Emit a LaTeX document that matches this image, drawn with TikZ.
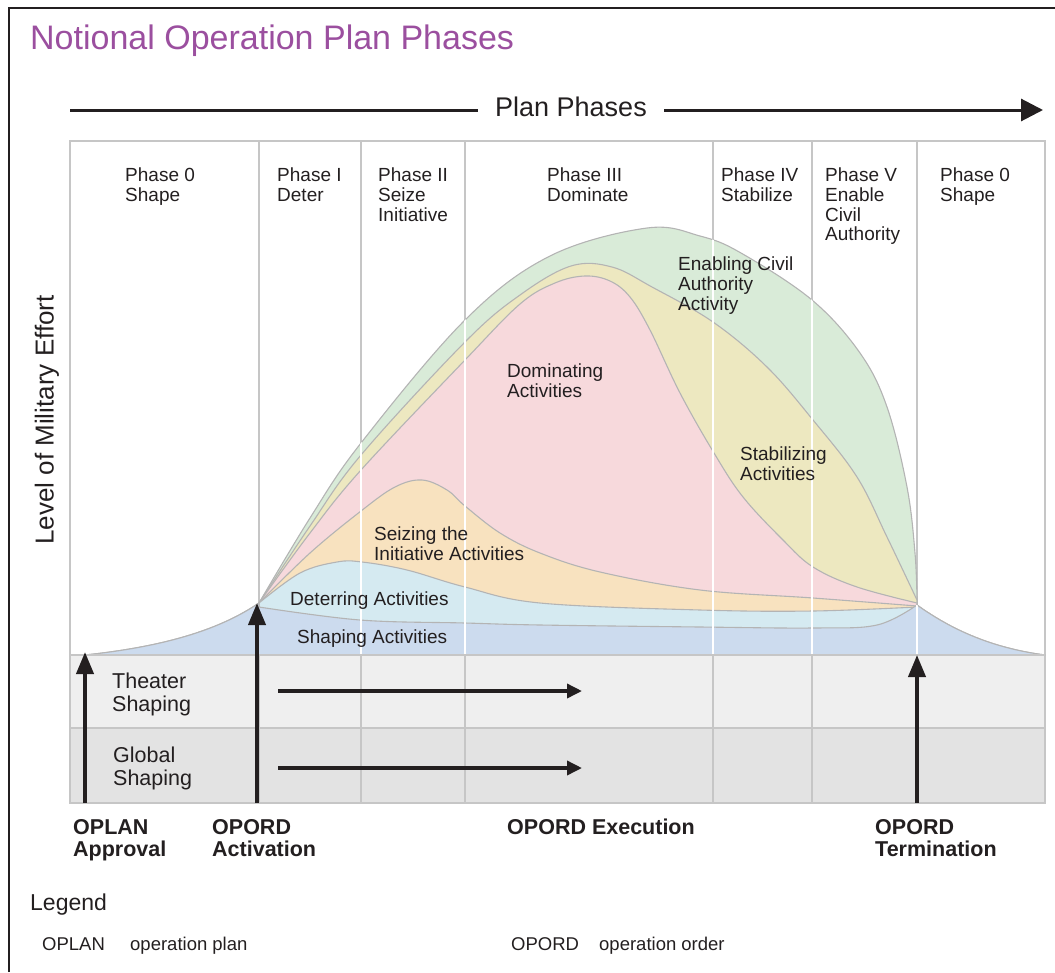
\documentclass[tikz,border=0pt]{standalone}
\usepackage{fontspec}
\setmainfont{Liberation Sans}
\usetikzlibrary{arrows.meta}

\definecolor{ink}{HTML}{231F20}
\definecolor{headpurple}{HTML}{9B4F9F}
\definecolor{gridgray}{HTML}{C6C6C6}
\definecolor{edgegray}{HTML}{B4B4B4}
\definecolor{bandlight}{HTML}{EFEFEF}
\definecolor{banddark}{HTML}{E3E3E3}
\definecolor{civgreen}{HTML}{D9EBD8}
\definecolor{stabyellow}{HTML}{EDE8C0}
\definecolor{dompink}{HTML}{F7D9DC}
\definecolor{seizorange}{HTML}{F8E2BF}
\definecolor{detblue}{HTML}{D5EAF1}
\definecolor{shapeblue}{HTML}{CCDBEE}

\newcommand\envpath{(85,655) .. controls (170,646) and (222,628) .. (259,603)
  -- plot[smooth, tension=0.6] coordinates {(259,603) (310,518) (361,443) (465,320) (550,256) (647,228) (700,236) (741,253) (812,300) (860,353) (887,407) (907,487) (915,553) (917,600)}
  -- (917,605) .. controls (952,630) and (992,648) .. (1045,655) -- cycle}

\begin{document}
\begin{tikzpicture}[x=1pt, y=-1pt,
  phase lbl/.style={anchor=north west, align=left, font=\fontsize{19}{19.6}\selectfont},
  area lbl/.style={anchor=north west, align=left, font=\fontsize{19}{19.6}\selectfont},
  band lbl/.style={anchor=north west, align=left, font=\fontsize{21.5}{23}\selectfont},
  mile lbl/.style={anchor=north west, align=left, font=\bfseries\fontsize{21.5}{22}\selectfont},
  legend lbl/.style={anchor=base west, font=\fontsize{18.5}{20}\selectfont},
  zone/.style={draw=edgegray, line width=1.1pt},
  grid line/.style={draw=gridgray, line width=2pt},
  mark arrow/.style={draw=ink, line width=4pt, -{Triangle[length=22pt, width=17pt]}},
  run arrow/.style={draw=ink, line width=3.5pt, -{Triangle[length=15pt, width=14pt]}}]
  \tikzstyle{every node}=[inner sep=0pt, text=ink]

  \useasboundingbox (0,0) rectangle (1055,972);
  \draw[line width=2pt, ink] (9,972) -- (9,8) -- (1055,8);

  \node[anchor=base west, text=headpurple, font=\fontsize{34}{36}\selectfont] (title) at (30,49) {Notional Operation Plan Phases};

  \fill[bandlight] (70,655) rectangle (1045,728);
  \fill[banddark] (70,728) rectangle (1045,803);
  \draw[grid line] (70,141) rectangle (1045,803);
  \foreach \x in {259,361,465,713,812,917}
    \draw[grid line] (\x,141) -- (\x,803);
  \draw[grid line] (70,728) -- (1045,728);

  \filldraw[zone, fill=civgreen] \envpath;
  \filldraw[zone, fill=stabyellow] (259,603) -- plot[smooth, tension=0.6] coordinates {(259,603) (310,526) (361,455) (465,342) (520,295) (571,266) (612,267) (652,287) (713,322) (767,367) (813,420) (857,477) (887,537) (917,600)} -- (917,655) -- (259,655) -- cycle;
  \filldraw[zone, fill=dompink] (259,603) -- plot[smooth, tension=0.6] coordinates {(259,603) (310,533) (361,470) (465,360) (520,304) (555,283) (585,276) (610,281) (630,297) (650,330) (680,393) (714,453) (743,497) (783,540) (813,567) (857,587) (917,603)} -- (917,655) -- (259,655) -- cycle;
  \filldraw[zone, fill=seizorange] (259,603) -- plot[smooth, tension=0.6] coordinates {(259,603) (310,553) (361,511) (395,487) (422,480) (447,490) (465,506) (500,533) (540,553) (600,572) (700,590) (813,598) (917,606)} -- (917,655) -- (259,655) -- cycle;
  \filldraw[zone, fill=detblue] (259,603) -- plot[smooth, tension=0.6] coordinates {(259,603) (300,573) (337,562) (362,562) (407,570) (465,587) (540,603) (700,610) (813,611) (917,607)} -- (917,655) -- (259,655) -- cycle;
  \filldraw[zone, fill=shapeblue] (85,655) .. controls (170,646) and (222,628) .. (259,603) -- (259,607)
    -- plot[smooth, tension=0.6] coordinates {(259,607) (360,620) (465,623) (540,625) (700,627) (813,628) (877,625) (917,605)}
    .. controls (952,630) and (992,648) .. (1045,655) -- cycle;

  \begin{scope}
    \clip \envpath;
    \foreach \x in {361,465,713,812}
      \draw[white, line width=2.2pt] (\x,141) -- (\x,655);
    \draw[white, line width=2.2pt] (917,605) -- (917,655);
  \end{scope}
  \draw[grid line] (70,655) -- (1045,655);

  \node[font=\fontsize{27}{29}\selectfont, inner xsep=17pt] (plan) at (571,107) {Plan Phases};
  \coordinate (planL) at (70,110);
  \coordinate (planR) at (1043,110);
  \draw[ink, line width=3pt] (planL) -- (plan.west |- planL);
  \draw[ink, line width=3pt, -{Triangle[length=22pt, width=22pt]}] (plan.east |- planL) -- (planR);

  \node[rotate=90, font=\fontsize{26}{28}\selectfont] (effort) at (47,420) {Level of Military Effort};

  \node[phase lbl] (ph0) at (125,168) {Phase 0\\Shape};
  \node[phase lbl] (ph1) at (277,168) {Phase I\\Deter};
  \node[phase lbl] (ph2) at (378,168) {Phase II\\Seize\\Initiative};
  \node[phase lbl] (ph3) at (547,168) {Phase III\\Dominate};
  \node[phase lbl] (ph4) at (721,168) {Phase IV\\Stabilize};
  \node[phase lbl] (ph5) at (825,168) {Phase V\\Enable\\Civil\\Authority};
  \node[phase lbl] (ph6) at (940,168) {Phase 0\\Shape};

  \node[area lbl] (enab) at (678,257) {Enabling Civil\\Authority\\Activity};
  \node[area lbl] (domi) at (507,364) {Dominating\\Activities};
  \node[area lbl] (stab) at (740,447) {Stabilizing\\Activities};
  \node[area lbl] (seiz) at (374,527) {Seizing the\\Initiative Activities};
  \node[area lbl] (dete) at (290,592) {Deterring Activities};
  \node[area lbl] (shap) at (297,630) {Shaping Activities};

  \node[band lbl] (theat) at (112,673) {Theater\\Shaping};
  \node[band lbl] (globl) at (113,747) {Global\\Shaping};

  \node[mile lbl] (oplan) at (73,819) {OPLAN\\Approval};
  \node[mile lbl] (oact) at (212,819) {OPORD\\Activation};
  \node[mile lbl] (oexec) at (507,819) {OPORD Execution};
  \node[mile lbl] (oterm) at (875,819) {OPORD\\Termination};

  \node[anchor=base west, font=\fontsize{23}{25}\selectfont] (lgd) at (30,910) {Legend};
  \node[legend lbl] (k1) at (42,950) {OPLAN};
  \node[legend lbl] (d1) at (130,950) {operation plan};
  \node[legend lbl] (k2) at (511,950) {OPORD};
  \node[legend lbl] (d2) at (599,950) {operation order};

  \coordinate (apprBase) at (85,803);
  \coordinate (apprTip) at (85,652);
  \coordinate (actBase) at (257,803);
  \coordinate (actTip) at (257,603);
  \coordinate (termBase) at (917,803);
  \coordinate (termTip) at (917,655);
  \draw[mark arrow] (apprBase) -- (apprTip);
  \draw[mark arrow] (actBase) -- (actTip);
  \draw[mark arrow] (termBase) -- (termTip);

  \coordinate (thStart) at (278,691);
  \coordinate (thEnd) at (582,691);
  \coordinate (glStart) at (278,768);
  \coordinate (glEnd) at (582,768);
  \draw[run arrow] (thStart) -- (thEnd);
  \draw[run arrow] (glStart) -- (glEnd);
\end{tikzpicture}
\end{document}
